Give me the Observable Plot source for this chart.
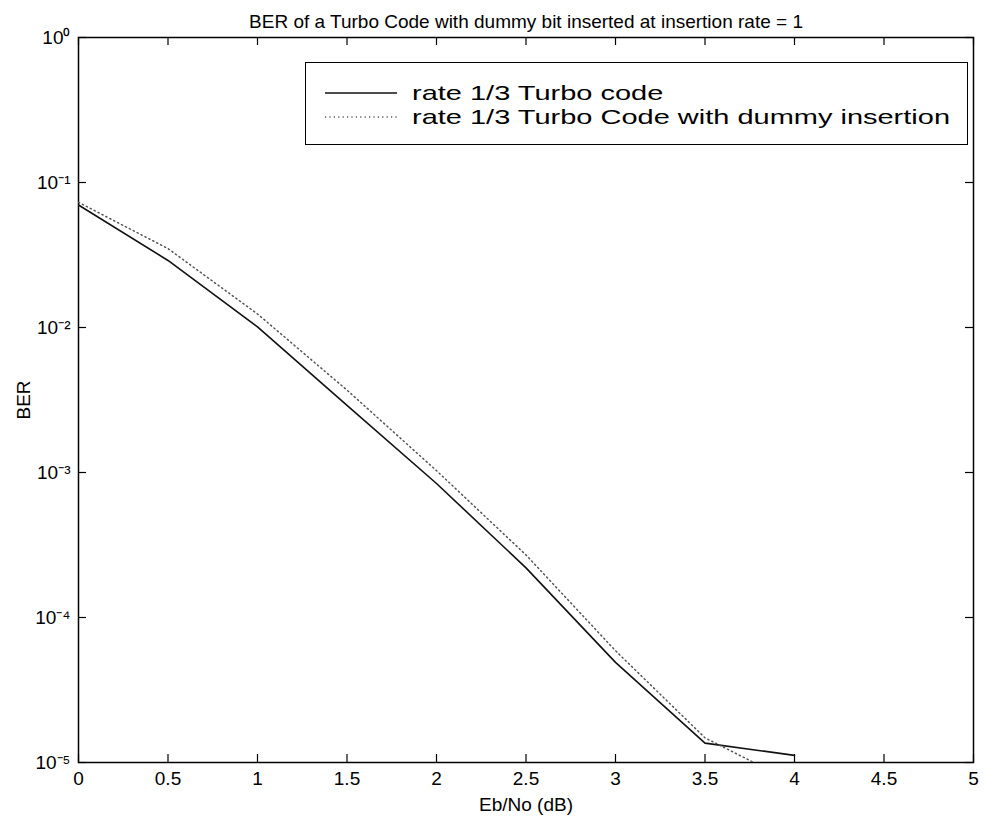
<!DOCTYPE html>
<html><head><meta charset="utf-8">
<script src="https://cdn.jsdelivr.net/npm/d3@7"></script>
<script src="https://cdn.jsdelivr.net/npm/@observablehq/plot@0.6"></script>
<style>
body{margin:0;background:#fff;font-family:"Liberation Sans",Arial,sans-serif;}
#wrap{position:relative;width:988px;height:817px;}
#legend{position:absolute;left:305px;top:62px;width:663px;height:83px;border:1.5px solid #000;background:#fff;box-sizing:border-box;}
.row{position:absolute;left:0;height:20px;display:flex;align-items:center;font-size:21px;line-height:20px;color:#000;white-space:nowrap;}
.row svg{margin-left:19px;margin-right:15px;flex:none;}
.row span{display:inline-block;height:20px;line-height:20px;transform:scaleX(1.38);transform-origin:left center;}
</style></head><body><div id="wrap"></div>
<script>
const titleText = "BER of a Turbo Code with dummy bit inserted at insertion rate = 1";
const xLabel = "Eb/No (dB)";
const yLabel = "BER";
const seriesNames = ["rate 1/3 Turbo code", "rate 1/3 Turbo Code with dummy insertion"];
const ebno = [0, 0.5, 1, 1.5, 2, 2.5, 3, 3.5, 4];
const berTurbo = [0.070, 0.029, 0.0101, 0.0029, 0.00084, 0.00022, 4.9e-5, 1.36e-5, 1.12e-5];
const berDummy = [0.073, 0.035, 0.0124, 0.0037, 0.00103, 0.00027, 5.9e-5, 1.48e-5, 7.2e-6];
const xTicks = [0, 0.5, 1, 1.5, 2, 2.5, 3, 3.5, 4, 4.5, 5];
const yTicks = [1, 1e-1, 1e-2, 1e-3, 1e-4, 1e-5];

const W = 988, H = 817, mt = 37, mb = 55, ml = 78, mr = 15;
const fw = W - ml - mr, fh = H - mt - mb, tk = 8;
const sup = {"0":"⁰","1":"¹","2":"²","3":"³","4":"⁴","5":"⁵","-":"⁻"};
const fmtY = d => "10" + String(Math.round(Math.log10(d))).split("").map(c => sup[c]).join("");

const rows = ebno.flatMap((x, i) => [
  {x, ber: berTurbo[i], s: seriesNames[0]},
  {x, ber: berDummy[i], s: seriesNames[1]}
]);

const chart = Plot.plot({
  width: W, height: H,
  marginTop: mt, marginBottom: mb, marginLeft: ml, marginRight: mr,
  style: {fontFamily: "'Liberation Sans', Arial, sans-serif", fontSize: "19px", color: "#000", background: "#fff"},
  x: {domain: [0, 5]},
  y: {type: "log", domain: [1e-5, 1]},
  marks: [
    Plot.gridX(xTicks, {stroke: "#000", strokeOpacity: 1, strokeWidth: 1.2, insetTop: fh - tk}),
    Plot.gridX(xTicks, {stroke: "#000", strokeOpacity: 1, strokeWidth: 1.2, insetBottom: fh - tk}),
    Plot.gridY(yTicks, {stroke: "#000", strokeOpacity: 1, strokeWidth: 1.2, insetRight: fw - tk}),
    Plot.gridY(yTicks, {stroke: "#000", strokeOpacity: 1, strokeWidth: 1.2, insetLeft: fw - tk}),
    Plot.axisX(xTicks, {tickSize: 0, tickPadding: 9, fontSize: 19, tickFormat: d => String(d), label: xLabel, labelAnchor: "center", labelOffset: 48, labelArrow: "none"}),
    Plot.axisY(yTicks, {tickSize: 0, tickPadding: 8, fontSize: 19, tickFormat: fmtY, label: yLabel, labelAnchor: "center", labelOffset: 62, labelArrow: "none"}),
    Plot.frame({stroke: "#000", strokeWidth: 1.5}),
    Plot.line(rows.filter(d => d.s === seriesNames[0]), {x: "x", y: "ber", stroke: "#111", strokeWidth: 1.6, clip: true}),
    Plot.line(rows.filter(d => d.s === seriesNames[1]), {x: "x", y: "ber", stroke: "#555", strokeWidth: 1.5, strokeDasharray: "1.2,3.2", clip: true}),
    Plot.text([titleText], {frameAnchor: "top", dy: -23, fontSize: 19, fill: "#000"})
  ]
});

const wrap = document.getElementById("wrap");
wrap.appendChild(chart);
const leg = document.createElement("div");
leg.id = "legend";
const styles = [{stroke: "#111", dash: null, w: 1.6}, {stroke: "#555", dash: "1.2,3.2", w: 1.5}];
seriesNames.forEach((name, i) => {
  const r = document.createElement("div");
  r.className = "row";
  r.style.top = (20 + i * 24) + "px";
  r.innerHTML = `<svg width="72" height="10"><line x1="0" x2="72" y1="5" y2="5" stroke="${styles[i].stroke}" stroke-width="${styles[i].w}" ${styles[i].dash ? `stroke-dasharray="${styles[i].dash}"` : ""}/></svg><span>${name}</span>`;
  leg.appendChild(r);
});
wrap.appendChild(leg);
</script>
</body></html>
